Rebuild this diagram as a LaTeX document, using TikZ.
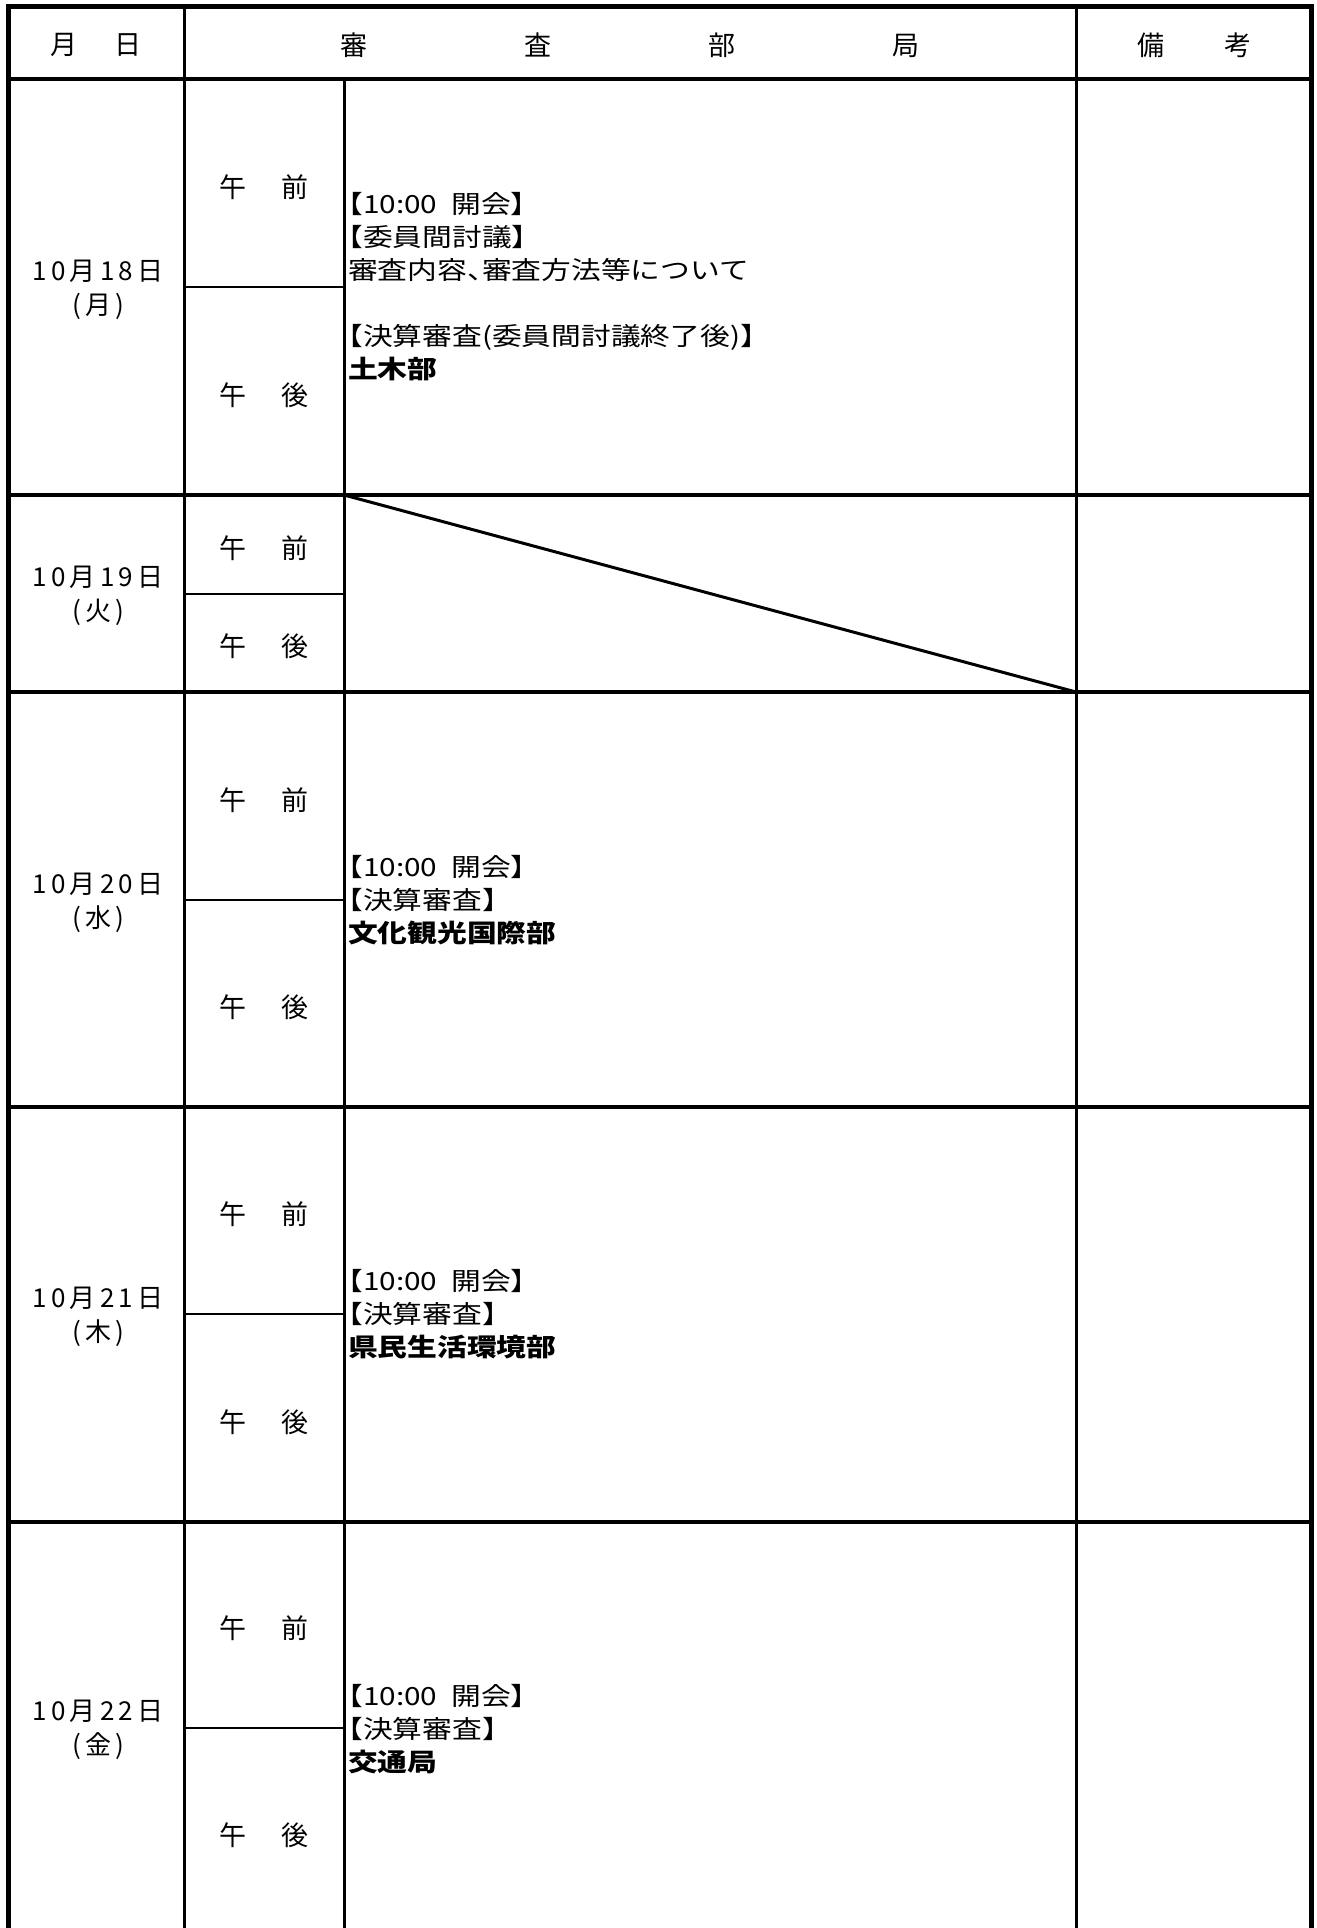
\documentclass[tikz,border=0pt]{standalone}
\usepackage{fontspec}
\usepackage{tikz}
\newfontfamily\jpfont{Noto Sans CJK JP}
\newfontfamily\bodyfont{Noto Sans CJK JP}[FakeStretch=1.19,RawFeature=+halt]
\newfontfamily\datefont{Noto Sans CJK JP}[LetterSpace=16]

\begin{document}
\begin{tikzpicture}[x=1pt, y=-1pt,
frame/.style={line width=5pt},
rowline/.style={line width=4pt},
colline/.style={line width=3pt},
halfline/.style={line width=1.5pt},
head/.style={font=\jpfont\fontsize{27}{30}\selectfont, inner sep=0pt},
half/.style={font=\jpfont\fontsize{27}{30}\selectfont, inner sep=0pt},
date/.style={font=\datefont\fontsize{26}{34}\selectfont, align=center, inner sep=0pt},
body/.style={font=\bodyfont\fontsize{25}{33}\selectfont, align=left, anchor=west, inner sep=0pt}
]
\useasboundingbox (0,0) rectangle (1317,1928);
\fill[white] (0,0) rectangle (1317,1928);

\node[head](h_date) at (96,45){月\hspace{38pt}日};
\node[head](h_body) at (630,45){審\hspace{157pt}査\hspace{157pt}部\hspace{157pt}局};
\node[head](h_note) at (1194,45){備\hspace{60pt}考};

\node[date](d18) at (98,290){10月18日\\(月)};
\node[half](d18_am) at (264,187){午\hspace{35pt}前};
\node[half](d18_pm) at (264,395){午\hspace{35pt}後};
\node[body](d18_body) at (348,287){【10:00\hspace{14pt}開会】\\【委員間討議】\\審査内容、審査方法等について\\[33pt]【決算審査(委員間討議終了後)】\\\textbf{土木部}};

\node[date](d19) at (98,596){10月19日\\(火)};
\node[half](d19_am) at (264,548){午\hspace{35pt}前};
\node[half](d19_pm) at (264,646){午\hspace{35pt}後};

\node[date](d20) at (98,903){10月20日\\(水)};
\node[half](d20_am) at (264,800){午\hspace{35pt}前};
\node[half](d20_pm) at (264,1007){午\hspace{35pt}後};
\node[body](d20_body) at (348,900){【10:00\hspace{14pt}開会】\\【決算審査】\\\textbf{文化観光国際部}};

\node[date](d21) at (98,1317){10月21日\\(木)};
\node[half](d21_am) at (264,1214){午\hspace{35pt}前};
\node[half](d21_pm) at (264,1422){午\hspace{35pt}後};
\node[body](d21_body) at (348,1314){【10:00\hspace{14pt}開会】\\【決算審査】\\\textbf{県民生活環境部}};

\node[date](d22) at (98,1730){10月22日\\(金)};
\node[half](d22_am) at (264,1628){午\hspace{35pt}前};
\node[half](d22_pm) at (264,1835){午\hspace{35pt}後};
\node[body](d22_body) at (348,1729){【10:00\hspace{14pt}開会】\\【決算審査】\\\textbf{交通局}};

\draw[frame] (8,1928) -- (8,6) -- (1311,6) -- (1311,1928);
\draw[rowline] (8,79) -- (1311,79);
\draw[rowline] (8,495) -- (1311,495);
\draw[rowline] (8,692) -- (1311,692);
\draw[rowline] (8,1107) -- (1311,1107);
\draw[rowline] (8,1522) -- (1311,1522);

\draw[colline] (184,6) -- (184,1928);
\draw[colline] (344,79) -- (344,1928);
\draw[colline] (1076,6) -- (1076,1928);

\draw[halfline] (184,287) -- (344,287);
\draw[halfline] (184,594) -- (344,594);
\draw[halfline] (184,900) -- (344,900);
\draw[halfline] (184,1314) -- (344,1314);
\draw[halfline] (184,1728) -- (344,1728);

\draw[colline] (344,495) -- (1076,692);

\end{tikzpicture}
\end{document}
